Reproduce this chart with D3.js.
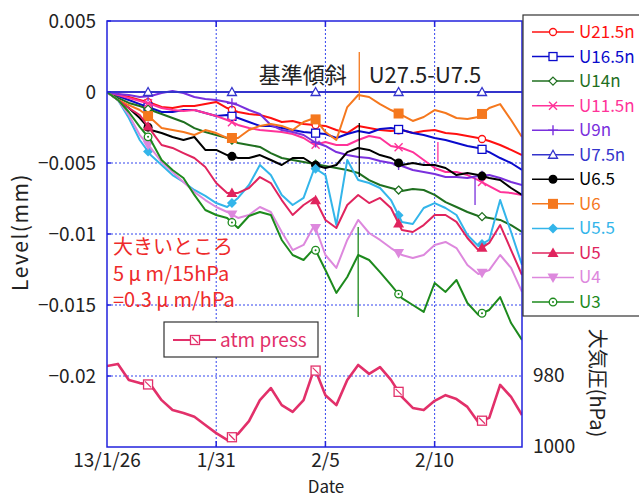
<!DOCTYPE html>
<html>
<head>
<meta charset="utf-8">
<script src="https://cdn.jsdelivr.net/npm/d3@7"></script>
<style>
  body { margin: 0; background: #fff; }
  svg { display: block; font-family: "Noto Sans CJK JP", "Noto Sans", sans-serif; }
</style>
</head>
<body>
<svg id="chart" width="639" height="499"></svg>
<script>
// sample times, in days after 2013/1/26
const days = [0,0.5,1,1.5,2,2.5,3,3.5,4,4.5,5,5.5,6,6.5,7,7.5,8,8.5,9,9.5,
              10,10.5,11,11.5,12,12.5,13,13.5,14,14.5,15,15.5,16,16.5,17,17.5,18,18.5,19];

// level values in µm (axis shows mm)
const u21_5n = [0,-0.14,-0.35,-0.56,-0.77,-1.06,-1.13,-0.99,-0.99,-0.85,-0.70,-1.13,-1.41,-1.55,-1.62,-1.83,-2.11,-2.04,-2.25,-2.32,
                -2.39,-2.68,-2.89,-2.39,-2.54,-2.68,-2.75,-2.68,-2.89,-2.75,-2.68,-2.89,-2.96,-3.10,-3.24,-3.45,-3.73,-4.08,-4.44];
const u16_5n = [0,-0.28,-0.56,-0.85,-1.13,-1.41,-1.41,-1.27,-1.27,-1.48,-1.69,-1.62,-1.83,-2.11,-2.39,-2.39,-2.54,-2.68,-2.82,-2.89,
                -2.96,-3.24,-2.96,-2.75,-2.89,-2.61,-2.54,-2.68,-2.89,-3.03,-3.24,-3.38,-3.59,-3.80,-3.94,-4.23,-4.65,-5.00,-5.49];
const u14n   = [0,-0.42,-0.77,-0.99,-1.27,-1.55,-1.83,-2.11,-2.54,-2.82,-3.03,-3.24,-3.59,-3.73,-3.87,-4.30,-4.65,-4.79,-4.93,-5.07,
                -5.21,-5.35,-5.49,-5.70,-6.20,-6.55,-6.76,-6.97,-6.83,-6.90,-7.25,-7.75,-8.10,-8.45,-8.73,-8.87,-9.01,-9.37,-9.86];
const u11_5n = [0,-0.21,-0.42,-0.63,-0.85,-1.13,-1.27,-1.34,-1.27,-1.48,-1.69,-1.97,-2.32,-2.54,-2.68,-2.75,-2.82,-2.96,-3.24,-3.73,
                -3.52,-3.73,-3.73,-3.38,-3.10,-3.24,-3.80,-3.94,-4.23,-4.79,-5.35,-5.63,-5.63,-5.85,-6.20,-6.62,-7.04,-7.11,-7.25];
const u9n    = [0,-0.14,-0.21,-0.35,-0.28,-0.07,0.07,-0.07,-0.35,-0.49,-0.56,-0.70,-0.92,-1.27,-1.55,-2.32,-2.68,-2.82,-3.03,-3.52,
                -3.80,-4.23,-4.44,-4.58,-4.65,-4.86,-5.00,-5.21,-5.49,-5.63,-5.77,-5.99,-5.99,-6.06,-5.92,-5.85,-6.06,-6.34,-6.55];
const u7_5n  = [0,0,0,0,0,0,0,0,0,0,0,0,0,0,0,0,0,0,0,0,
                0,0,0,0,0,0,0,0,0,0,0,0,0,0,0,0,0,0,0];
const u6_5   = [0,-0.56,-1.13,-1.83,-2.68,-2.89,-3.17,-3.38,-3.17,-4.08,-4.08,-4.44,-4.65,-4.65,-4.44,-4.79,-5.14,-4.65,-4.65,-5.14,
                -5.35,-5.14,-4.23,-3.94,-4.08,-4.44,-4.65,-5.14,-5.00,-5.14,-5.14,-5.35,-5.85,-5.70,-5.85,-6.06,-6.20,-6.76,-7.25];
const u6     = [0,-0.56,-0.92,-1.27,-1.83,-2.54,-2.68,-2.82,-3.03,-2.68,-2.89,-3.24,-3.24,-2.68,-2.39,-2.25,-2.39,-2.68,-2.11,-1.83,
                -2.82,-3.38,-1.06,-0.21,-0.35,-0.85,-1.27,-1.62,-2.04,-1.76,-1.27,-1.48,-1.83,-1.90,-1.76,-1.13,-0.85,-1.97,-3.17];
const u5_5   = [0,-0.56,-1.83,-3.38,-4.44,-5.14,-5.85,-6.34,-6.90,-7.32,-7.82,-8.10,-7.46,-6.55,-5.14,-5.85,-7.25,-7.96,-7.46,-5.35,
                -5.85,-9.37,-4.79,-6.20,-6.41,-6.76,-7.61,-9.15,-9.30,-8.17,-7.82,-8.17,-8.66,-10.07,-10.85,-10.42,-7.61,-9.86,-12.18];
const u5     = [0,-0.56,-1.13,-1.62,-2.68,-3.73,-3.94,-4.30,-4.65,-5.28,-6.41,-7.11,-7.11,-6.76,-5.99,-6.41,-7.61,-8.66,-7.96,-7.46,
                -9.01,-9.58,-7.96,-7.25,-7.82,-7.46,-8.17,-9.72,-9.86,-9.37,-8.66,-8.66,-9.15,-10.28,-11.13,-10.63,-9.37,-11.13,-12.89];
const u4     = [0,-0.56,-1.62,-3.03,-3.94,-4.93,-5.63,-6.34,-7.04,-7.61,-8.10,-8.45,-8.87,-8.66,-8.10,-8.45,-9.86,-11.13,-10.77,-9.37,
                -11.48,-12.39,-10.42,-9.01,-9.93,-10.42,-10.99,-11.48,-11.69,-11.48,-10.77,-10.56,-10.99,-12.18,-12.82,-12.54,-11.48,-12.39,-14.08];
const u3     = [0,-0.56,-1.41,-2.46,-3.38,-4.79,-5.49,-6.06,-7.25,-8.31,-8.66,-8.87,-9.58,-8.73,-8.45,-8.66,-10.42,-11.48,-11.83,-10.99,
                -12.54,-14.15,-13.03,-11.48,-11.83,-12.68,-13.59,-14.51,-15.00,-15.49,-13.45,-14.08,-13.24,-14.86,-15.70,-15.35,-14.44,-16.27,-17.46];

// atmospheric pressure, hPa (right axis)
const atmPress = [977.2,976.6,981.1,982.0,982.5,986.8,989.6,990.4,991.5,993.8,996.1,998.0,996.3,992.7,986.8,983.4,988.2,990.1,986.8,977.7,
                  985.4,988.2,981.1,976.9,979.4,977.5,981.1,985.9,989.0,989.6,987.0,985.4,986.5,988.7,993.0,991.8,982.5,985.9,991.0];

const seriesNames  = ["U21.5n","U16.5n","U14n","U11.5n","U9n","U7.5n","U6.5","U6","U5.5","U5","U4","U3"];
const seriesValues = [u21_5n, u16_5n, u14n, u11_5n, u9n, u7_5n, u6_5, u6, u5_5, u5, u4, u3];
const seriesColors = ["#ff1010","#0a0acc","#1f6f1f","#ff3399","#7a30dd","#3434cc","#000000","#f5781e","#33b5ea","#e0245e","#dd88dd","#1d8a1d"];
const seriesMarks  = ["circleOpen","squareOpen","diamondOpen","x","plus","triangleOpen","circle","square","diamond","triangle","triangleDown","circleDot"];
const pressColor = "#e2306a";

// days where the marker glyphs sit on every line
const markerDays = [1.88, 5.72, 9.55, 13.35, 17.17];

// isolated glitches in the record: series, day, top, bottom (µm)
const spikeSeries = ["U6","U6.5","U3","U11.5n","U9n"];
const spikeDays   = [11.55, 11.55, 11.5, 15.15, 16.85];
const spikeTop    = [2.82, -2.18, -9.51, -3.52, -6.06];
const spikeBottom = [-0.56, -5.99, -15.85, -4.93, -7.96];

const xTickDates  = [new Date(2013,0,26), new Date(2013,0,31), new Date(2013,1,5), new Date(2013,1,10)];
const xTickLabels = ["13/1/26","1/31","2/5","2/10"];
const yTicks      = [5, 0, -5, -10, -15, -20];
const yTickLabels = ["0.005","0","\u22120.005","\u22120.01","\u22120.015","\u22120.02"];
const pTicks      = [980, 1000];

const svg = d3.select("#chart");
const plot = { left: 107, top: 21, right: 522, bottom: 447 };
const startDate = new Date(2013, 0, 26);
const dayToDate = d => new Date(startDate.getTime() + d * 86400000);

const x = d3.scaleTime().domain([startDate, new Date(2013, 1, 14)]).range([plot.left, plot.right]);
const y = d3.scaleLinear().domain([-25, 5]).range([plot.bottom, plot.top]);
const yP = d3.scaleLinear().domain([1000, 880]).range([plot.bottom, plot.top]);

const gridBlue = "#3344ee", axisBlue = "#2222dd";

svg.append("clipPath").attr("id", "plotClip")
  .append("rect").attr("x", plot.left).attr("y", plot.top)
  .attr("width", plot.right - plot.left).attr("height", plot.bottom - plot.top);

// dotted grid
const grid = svg.append("g");
yTicks.filter(v => v < 0).forEach(v => {
  grid.append("line").attr("x1", plot.left).attr("x2", plot.right)
    .attr("y1", y(v)).attr("y2", y(v))
    .attr("stroke", gridBlue).attr("stroke-width", 1).attr("stroke-dasharray", "2,2");
});
xTickDates.slice(1).forEach(d => {
  grid.append("line").attr("x1", x(d)).attr("x2", x(d))
    .attr("y1", plot.top).attr("y2", plot.bottom)
    .attr("stroke", gridBlue).attr("stroke-width", 1).attr("stroke-dasharray", "2,2");
});

function drawMarker(g, type, cx, cy, color) {
  const m = g.append("g").attr("transform", `translate(${cx},${cy})`);
  const open = { fill: "#fff", stroke: color, "stroke-width": 1.3 };
  const set = (sel, attrs) => { Object.entries(attrs).forEach(([k, v]) => sel.attr(k, v)); return sel; };
  switch (type) {
    case "circleOpen": set(m.append("circle").attr("r", 3.5), open); break;
    case "circleDot":
      set(m.append("circle").attr("r", 3.8), open);
      m.append("circle").attr("r", 1).attr("fill", color);
      break;
    case "circle": m.append("circle").attr("r", 4.5).attr("fill", color); break;
    case "squareOpen": set(m.append("rect").attr("x", -4).attr("y", -4).attr("width", 8).attr("height", 8), open); break;
    case "square": m.append("rect").attr("x", -5).attr("y", -5).attr("width", 10).attr("height", 10).attr("fill", color); break;
    case "diamondOpen": set(m.append("path").attr("d", "M0,-4L4,0L0,4L-4,0Z"), open); break;
    case "diamond": m.append("path").attr("d", "M0,-5L5,0L0,5L-5,0Z").attr("fill", color); break;
    case "x": m.append("path").attr("d", "M-4,-4L4,4M-4,4L4,-4").attr("stroke", color).attr("stroke-width", 1.4); break;
    case "plus": m.append("path").attr("d", "M-5,0H5M0,-5V5").attr("stroke", color).attr("stroke-width", 1.4); break;
    case "triangleOpen": set(m.append("path").attr("d", "M0,-4.5L4.5,3.5H-4.5Z"), open); break;
    case "triangle": m.append("path").attr("d", "M0,-5.5L5.5,4H-5.5Z").attr("fill", color); break;
    case "triangleDown": m.append("path").attr("d", "M0,5.5L5.5,-4H-5.5Z").attr("fill", color); break;
    case "squareSlash":
      set(m.append("rect").attr("x", -4.5).attr("y", -4.5).attr("width", 9).attr("height", 9), open);
      m.append("path").attr("d", "M-3,-3L3,3").attr("stroke", color).attr("stroke-width", 1.2);
      break;
  }
}

// position of a marker glyph on a line between two samples
function valueAt(vals, day) {
  const i = Math.min(d3.bisectRight(days, day) - 1, days.length - 2);
  const t = (day - days[i]) / (days[i + 1] - days[i]);
  return vals[i] + t * (vals[i + 1] - vals[i]);
}

const lines = svg.append("g").attr("clip-path", "url(#plotClip)");

// pressure on the secondary axis
const pressLine = d3.line().x((d, i) => x(dayToDate(days[i]))).y(d => yP(d));
lines.append("path").datum(atmPress).attr("d", pressLine)
  .attr("fill", "none").attr("stroke", pressColor).attr("stroke-width", 2.6)
  .attr("stroke-linejoin", "round");
markerDays.forEach(md => drawMarker(lines, "squareSlash", x(dayToDate(md)), yP(valueAt(atmPress, md)), pressColor));

// level series
const levelLine = d3.line().x((d, i) => x(dayToDate(days[i]))).y(d => y(d));
seriesValues.forEach((vals, k) => {
  const color = seriesColors[k];
  lines.append("path").datum(vals).attr("d", levelLine)
    .attr("fill", "none").attr("stroke", color).attr("stroke-width", 2)
    .attr("stroke-linejoin", "round");
  spikeSeries.forEach((name, j) => {
    if (name !== seriesNames[k]) return;
    const sx = x(dayToDate(spikeDays[j]));
    lines.append("line").attr("x1", sx).attr("x2", sx)
      .attr("y1", y(spikeTop[j])).attr("y2", y(spikeBottom[j]))
      .attr("stroke", color).attr("stroke-width", 1.3);
  });
  markerDays.forEach(md => drawMarker(lines, seriesMarks[k], x(dayToDate(md)), y(valueAt(vals, md)), color));
});

// frame + inward ticks
svg.append("rect").attr("x", plot.left).attr("y", plot.top)
  .attr("width", plot.right - plot.left).attr("height", plot.bottom - plot.top)
  .attr("fill", "none").attr("stroke", axisBlue).attr("stroke-width", 1.5);
yTicks.forEach(v => {
  svg.append("line").attr("x1", plot.left).attr("x2", plot.left + 4).attr("y1", y(v)).attr("y2", y(v))
    .attr("stroke", axisBlue).attr("stroke-width", 1.5);
});
xTickDates.slice(1).forEach(d => {
  svg.append("line").attr("x1", x(d)).attr("x2", x(d)).attr("y1", plot.bottom).attr("y2", plot.bottom - 6)
    .attr("stroke", axisBlue).attr("stroke-width", 1.5);
  svg.append("line").attr("x1", x(d)).attr("x2", x(d)).attr("y1", plot.top).attr("y2", plot.top + 6)
    .attr("stroke", axisBlue).attr("stroke-width", 1.5);
});

// tick labels
const labelColor = "#222";
yTicks.forEach((v, i) => {
  svg.append("text").attr("x", 96).attr("y", y(v)).attr("dy", "0.35em")
    .attr("text-anchor", "end").attr("font-size", 19).attr("fill", labelColor)
    .text(yTickLabels[i]);
});
xTickDates.forEach((d, i) => {
  svg.append("text").attr("x", x(d)).attr("y", 467)
    .attr("text-anchor", "middle").attr("font-size", 19).attr("fill", labelColor)
    .text(xTickLabels[i]);
});
pTicks.forEach(p => {
  svg.append("text").attr("x", 533).attr("y", yP(p) - 1).attr("dy", "0.35em")
    .attr("font-size", 19).attr("fill", labelColor).text(p);
});

// axis titles
svg.append("text").attr("transform", "translate(21,232) rotate(-90)")
  .attr("text-anchor", "middle").attr("dy", "0.35em").attr("font-size", 21)
  .attr("letter-spacing", 1.5).attr("fill", labelColor)
  .text("Level(mm)");
svg.append("text").attr("transform", "translate(597,383) rotate(90)")
  .attr("text-anchor", "middle").attr("dy", "0.35em").attr("font-size", 20).attr("fill", labelColor)
  .text("大気圧(hPa)");
svg.append("text").attr("x", 326).attr("y", 493)
  .attr("text-anchor", "middle").attr("font-size", 17).attr("fill", labelColor).text("Date");

// title in plot
svg.append("text").attr("x", 370).attr("y", 75).attr("dy", "0.35em")
  .attr("text-anchor", "middle").attr("font-size", 22).attr("fill", "#222")
  .text("基準傾斜　U27.5-U7.5");

// note
const note = ["大きいところ", "5 μ m/15hPa", "=0.3 μ m/hPa"];
note.forEach((t, i) => {
  svg.append("text").attr("x", 113).attr("y", 247 + i * 26.5).attr("dy", "0.35em")
    .attr("font-size", 20).attr("fill", "#ee2a2a").text(t);
});

// atm press legend
const pl = svg.append("g");
pl.append("rect").attr("x", 164).attr("y", 322).attr("width", 154).attr("height", 35)
  .attr("fill", "#fff").attr("stroke", "#333").attr("stroke-width", 1.2);
pl.append("line").attr("x1", 173).attr("x2", 216).attr("y1", 340).attr("y2", 340)
  .attr("stroke", pressColor).attr("stroke-width", 2);
drawMarker(pl, "squareSlash", 195, 340, pressColor);
pl.append("text").attr("x", 220).attr("y", 340).attr("dy", "0.35em")
  .attr("font-size", 19).attr("fill", pressColor).text("atm press");

// series legend (runs off the right edge)
const lg = svg.append("g");
lg.append("rect").attr("x", 523).attr("y", 15).attr("width", 130).attr("height", 301)
  .attr("fill", "#fff").attr("stroke", "#333").attr("stroke-width", 1.2);
seriesNames.forEach((name, k) => {
  const ly = 32 + k * 24.55;
  lg.append("line").attr("x1", 532).attr("x2", 574).attr("y1", ly).attr("y2", ly)
    .attr("stroke", seriesColors[k]).attr("stroke-width", 1.5);
  drawMarker(lg, seriesMarks[k], 553, ly, seriesColors[k]);
  lg.append("text").attr("x", 579).attr("y", ly).attr("dy", "0.35em")
    .attr("font-size", 17).attr("fill", seriesColors[k]).text(name);
});
</script>
</body>
</html>
